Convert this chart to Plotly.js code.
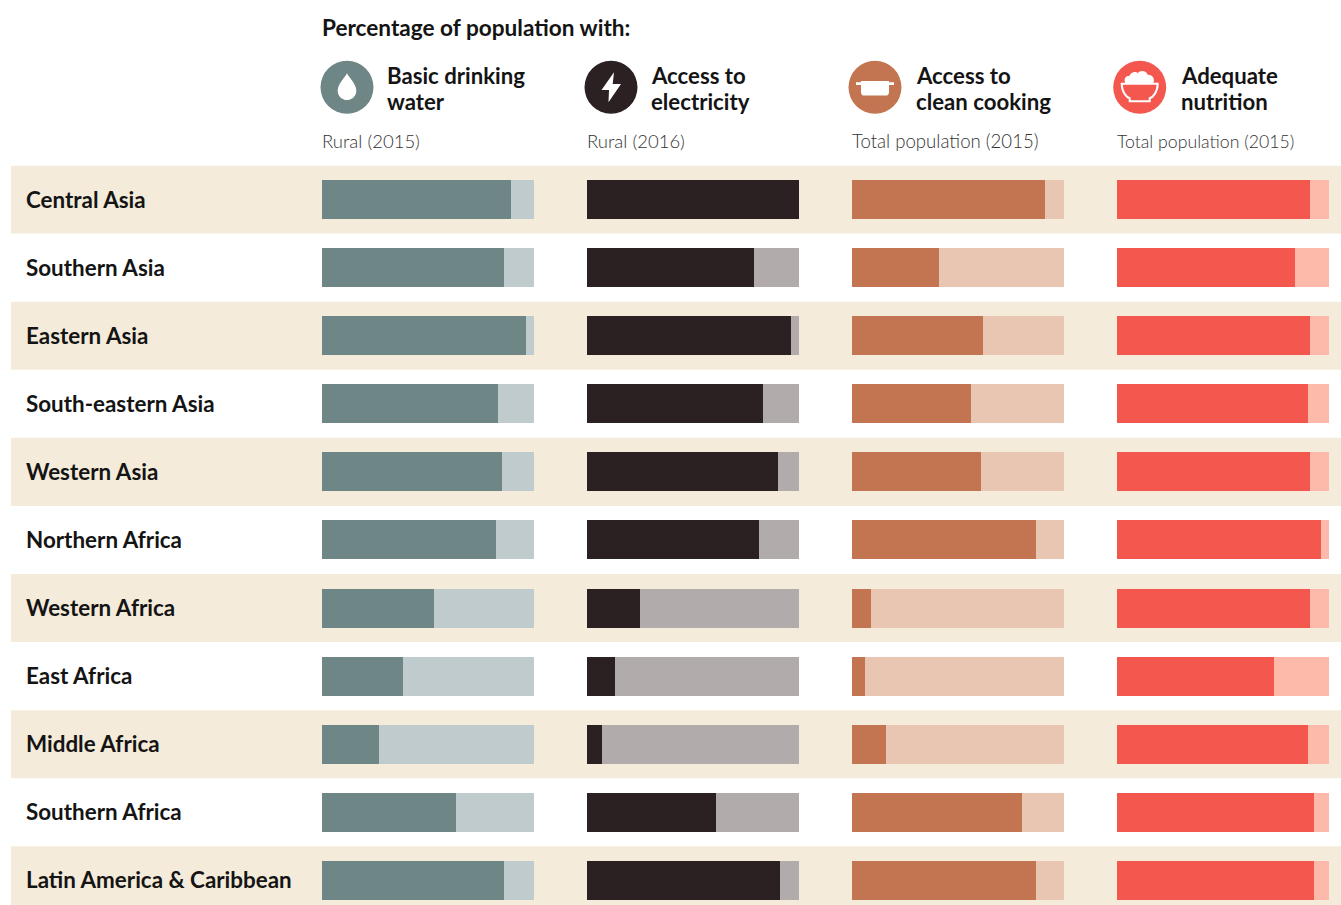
<!DOCTYPE html>
<html>
<head>
<meta charset="utf-8">
<script src="https://cdn.plot.ly/plotly-3.0.1.min.js"></script>
<style>html,body{margin:0;padding:0;background:#fff;overflow:hidden}#chart{width:1341px;height:905px}</style>
</head>
<body>
<div id="chart"></div>
<script>
const regions = ["Central Asia","Southern Asia","Eastern Asia","South-eastern Asia","Western Asia","Northern Africa","Western Africa","East Africa","Middle Africa","Southern Africa","Latin America & Caribbean"];

const waterWith    = [89,86,96,83,85,82,53,38,27,63,86];
const waterWithout = [11,14, 4,17,15,18,47,62,73,37,14];
const electricityWith    = [100,79,96,83,90,81,25,13, 7,61,91];
const electricityWithout = [  0,21, 4,17,10,19,75,87,93,39, 9];
const cookingWith    = [91,41,62,56,61,87, 9, 6,16,80,87];
const cookingWithout = [ 9,59,38,44,39,13,91,94,84,20,13];
const nutritionWith    = [91,84,91,90,91,96,91,74,90,93,93];
const nutritionWithout = [ 9,16, 9,10, 9, 4, 9,26,10, 7, 7];

const chartTitle = "Percentage of population with:";
const headers = [["Basic drinking","water"],["Access to","electricity"],["Access to","clean cooking"],["Adequate","nutrition"]];
const subtitles = ["Rural (2015)","Rural (2016)","Total population (2015)","Total population (2015)"];
const subtitleSizes = [18.5,18.5,18.6,17.7];

const W = 1341, H = 905;
const fx = p => p / W, fy = p => 1 - p / H;
const FONT = "Lato, sans-serif";
const INK = "#141414";

const panels = [
  {withV: waterWith, without: waterWithout, dark:"#6F8686", light:"#C0CBCD", left:322, iconX:347, textX:384.5},
  {withV: electricityWith, without: electricityWithout, dark:"#2B2022", light:"#B2ABAB", left:587, iconX:611, textX:649},
  {withV: cookingWith, without: cookingWithout, dark:"#C27550", light:"#E9C6B2", left:852, iconX:875, textX:914},
  {withV: nutritionWith, without: nutritionWithout, dark:"#F4574E", light:"#FDB9A9", left:1117, iconX:1139.7, textX:1179}
];
const BAR_W = 212, ICON_Y = 87.3, ICON_R = 26.5;

const traces = [];
const layout = {
  width: W, height: H, margin:{l:0,r:0,t:0,b:0,pad:0},
  paper_bgcolor:"#fff", plot_bgcolor:"rgba(0,0,0,0)",
  barmode:"stack", bargap:0.427, showlegend:false,
  yaxis:{domain:[0,(H-165.5)/H], range:[10.362,-0.5], type:"linear", showticklabels:false, showgrid:false, zeroline:false, showline:false, ticks:"", fixedrange:true},
  shapes:[], annotations:[]
};

panels.forEach((p,k)=>{
  const name = k===0 ? "x" : "x"+(k+1), key = k===0 ? "xaxis" : "xaxis"+(k+1);
  layout[key] = {domain:[fx(p.left),fx(p.left+BAR_W)], range:[0,100], anchor:"y", showticklabels:false, showgrid:false, zeroline:false, showline:false, ticks:"", fixedrange:true};
  const ys = regions.map((_,i)=>i);
  traces.push({type:"bar",orientation:"h",x:p.withV,y:ys,xaxis:name,yaxis:"y",marker:{color:p.dark,line:{width:0}},hoverinfo:"skip"});
  traces.push({type:"bar",orientation:"h",x:p.without,y:ys,xaxis:name,yaxis:"y",marker:{color:p.light,line:{width:0}},hoverinfo:"skip"});
});

regions.forEach((r,i)=>{
  if(i%2===0) layout.shapes.push({type:"rect",layer:"below",xref:"paper",yref:"y",x0:fx(11),x1:1,y0:i-0.5,y1:i+0.5,fillcolor:"#F4EBDA",line:{width:0}});
  layout.annotations.push({text:r,xref:"paper",yref:"y",x:fx(23.5),y:i,yshift:0.5,xanchor:"left",yanchor:"middle",showarrow:false,font:{family:FONT,size:22.4,weight:700,color:INK}});
});

function note(text,x,y,size,weight,color){
  layout.annotations.push({text,xref:"paper",yref:"paper",x:fx(x),y:fy(y),xanchor:"left",yanchor:"middle",showarrow:false,font:{family:FONT,size,weight,color}});
}
note(chartTitle,320,28,22.6,700,INK);
panels.forEach((p,k)=>{
  note(headers[k][0],p.textX,75,22.2,700,INK);
  note(headers[k][1],p.textX,102,22.2,700,INK);
  note(subtitles[k],p.left-2,141,subtitleSizes[k],300,"#333");
});

// Icon drawing: commands relative to the icon centre, in pixels
function iconPath(cx,cy,cmds){
  return cmds.map(c=>{
    const op=c[0]; const out=[op];
    for(let i=1;i<c.length;i+=2) out.push(fx(cx+c[i])+","+fy(cy+c[i+1]));
    return out[0]+out.slice(1).join(" ");
  }).join(" ");
}
function addIcon(cx,cy,cmds,fill,line){
  layout.shapes.push({type:"path",xref:"paper",yref:"paper",path:iconPath(cx,cy,cmds),fillcolor:fill,line:line||{width:0},layer:"above"});
}
panels.forEach(p=>{
  const cx=p.iconX;
  layout.shapes.push({type:"circle",xref:"paper",yref:"paper",x0:fx(cx-ICON_R),x1:fx(cx+ICON_R),y0:fy(ICON_Y+ICON_R),y1:fy(ICON_Y-ICON_R),fillcolor:p.dark,line:{width:0},layer:"above"});
});
// drop
addIcon(panels[0].iconX,ICON_Y,[["M",0,-14],["C",2.5,-9,9.3,-3.5,9.3,3.5],["C",9.3,9,5,12.8,0,12.8],["C",-5,12.8,-9.3,9,-9.3,3.5],["C",-9.3,-3.5,-2.5,-9,0,-14],["Z"]],"#fff");
// bolt
addIcon(panels[1].iconX,ICON_Y,[["M",3,-15],["L",-9.5,2.7],["L",-2,2.7],["L",-2.5,15],["L",10,-3.3],["L",1.7,-3.3],["Z"]],"#fff");
// pot
addIcon(panels[2].iconX,ICON_Y,[["M",-14,-6.3],["L",14,-6.3],["L",14,-5],["L",19,-5],["L",19,-2.3],["L",14,-2.3],["L",14,5],["C",14,7.5,12.5,8.3,11,8.3],["L",-11,8.3],["C",-12.5,8.3,-14,7.5,-14,5],["L",-14,-2.3],["L",-19,-2.3],["L",-19,-5],["L",-14,-5],["Z"]],"#fff");
// bowl: rice and outline
addIcon(panels[3].iconX,ICON_Y,[["M",-14,-3.5],["C",-17,-9,-13,-12,-10,-11.5],["C",-9,-16,-3,-16,-2,-14],["C",0,-17.5,7,-17,8,-12.5],["C",12,-13,16,-9,13.5,-3.5],["Z"]],"#fff");
addIcon(panels[3].iconX,ICON_Y,[["M",-18,-3.5],["L",18,-3.5],["C",18,5,13,10,10,11],["L",10,14],["L",-10,14],["L",-10,11],["C",-13,10,-18,5,-18,-3.5],["Z"]],"rgba(0,0,0,0)",{color:"#fff",width:2});

Plotly.newPlot("chart",traces,layout,{displayModeBar:false,staticPlot:true});
</script>
</body>
</html>
